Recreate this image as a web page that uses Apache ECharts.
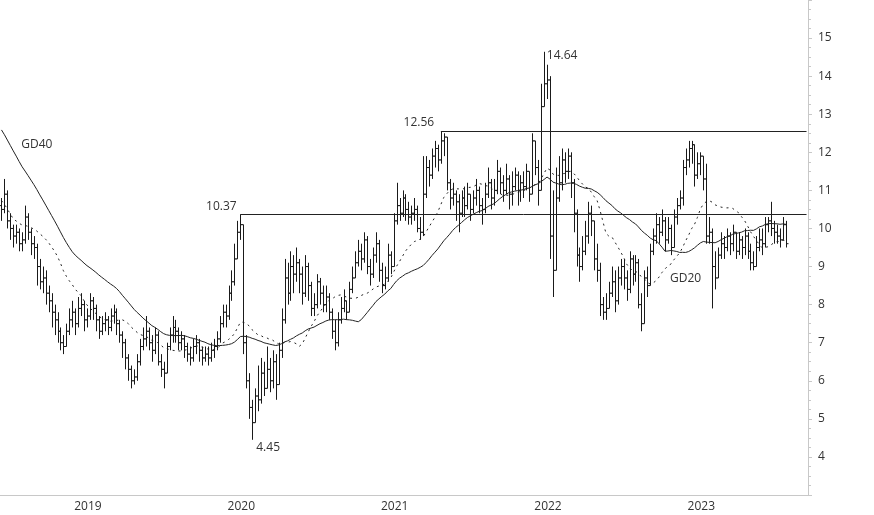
<!DOCTYPE html>
<html><head><meta charset="utf-8">
<script src="https://cdn.jsdelivr.net/npm/echarts@6/dist/echarts.min.js"></script>
<style>html,body{margin:0;padding:0;background:#fff}#chart{width:874px;height:515px}</style>
</head><body><div id="chart"></div>
<script>
// weekly closes, highs and lows
var closes = [10.5,10.9,10.2,10.0,9.8,9.9,9.6,9.7,10.3,9.9,
  9.6,9.5,9.0,8.6,8.7,8.3,8.1,7.8,7.6,7.3,
  7.0,6.9,7.3,7.6,7.8,7.5,7.9,8.0,7.6,7.7,
  8.1,7.9,7.6,7.3,7.5,7.6,7.4,7.7,7.8,7.5,
  7.2,7.0,6.6,6.3,6.0,6.1,6.5,6.9,7.1,7.3,
  7.0,6.8,7.2,6.5,6.3,6.2,6.9,7.2,7.4,7.3,
  7.0,7.1,6.9,6.7,6.6,6.9,7.0,6.8,6.6,6.7,
  6.6,6.8,6.9,7.1,7.5,7.8,7.7,8.3,8.6,9.2,
  9.9,10.1,7.0,6.0,5.3,4.9,5.6,5.5,6.2,5.8,
  6.3,6.0,6.5,5.9,6.8,7.6,8.7,8.3,9.0,8.8,
  9.1,8.8,8.3,9.0,8.5,7.9,8.0,8.6,8.3,8.0,
  8.2,7.8,7.3,7.0,7.6,7.9,8.1,7.8,8.4,8.7,
  9.1,9.4,9.2,9.7,9.0,8.8,9.3,9.6,8.9,8.5,
  8.7,9.3,9.0,10.2,10.6,10.4,10.8,10.5,10.3,10.4,
  10.5,10.0,9.9,10.9,11.6,11.4,11.9,12.1,11.8,12.3,
  12.4,11.2,10.8,10.9,10.7,10.4,10.8,10.6,10.9,10.5,
  10.8,11.0,10.6,10.5,10.9,11.2,10.8,11.0,11.5,11.2,
  11.0,11.3,10.9,11.1,11.4,11.0,11.2,11.1,11.5,10.9,
  12.3,11.6,11.0,13.2,13.8,13.9,9.8,8.9,10.8,11.2,
  11.8,11.5,11.9,11.2,10.4,9.3,9.0,9.4,9.8,10.4,
  10.2,9.2,8.9,8.0,7.8,7.9,8.3,8.6,8.1,8.7,
  9.0,8.7,8.4,9.2,8.8,9.1,8.0,7.5,8.7,8.5,
  9.4,9.8,10.1,9.9,10.2,9.7,10.0,9.5,10.3,10.6,
  10.8,11.6,11.8,12.1,12.2,11.4,11.7,11.9,11.3,9.8,
  9.9,9.0,8.7,9.3,9.6,9.5,9.8,9.6,9.9,9.4,
  9.7,9.5,9.8,9.4,9.1,9.0,9.5,9.7,9.6,10.1,
  10.2,10.0,9.9,9.8,9.7,10.1,9.6];
var highs = [10.8,11.3,11.0,10.4,10.1,10.1,10.0,9.9,10.6,10.4,
  10.0,9.8,9.6,9.2,9.0,8.9,8.5,8.3,8.0,7.8,
  7.4,7.2,7.5,7.9,8.1,7.9,8.2,8.3,8.1,7.9,
  8.3,8.2,8.0,7.7,7.7,7.8,7.7,7.9,8.0,7.9,
  7.6,7.3,7.1,6.7,6.4,6.3,6.7,7.1,7.4,7.7,
  7.4,7.2,7.4,7.3,6.7,6.5,7.0,7.4,7.7,7.6,
  7.4,7.3,7.2,7.0,6.9,7.1,7.2,7.1,6.9,6.9,
  6.9,7.0,7.1,7.3,7.7,8.0,8.0,8.5,8.9,9.6,
  10.2,10.37,9.3,7.2,6.2,5.5,5.8,6.4,6.6,6.5,
  6.9,6.6,6.8,6.7,7.0,7.9,9.2,9.1,9.4,9.3,
  9.5,9.2,9.0,9.3,9.1,8.6,8.3,8.8,8.7,8.5,
  8.5,8.3,7.9,7.6,7.8,8.2,8.4,8.1,8.6,9.0,
  9.4,9.7,9.6,9.9,9.8,9.2,9.5,9.9,9.7,9.1,
  9.0,9.6,9.4,10.4,11.2,10.8,11.0,10.9,10.7,10.6,
  10.8,10.6,10.3,11.9,11.9,11.8,12.1,12.3,12.2,12.56,
  12.5,12.4,11.3,11.2,11.0,10.9,11.0,11.1,11.2,10.9,
  11.0,11.3,11.1,10.8,11.2,11.6,11.3,11.3,11.8,11.6,
  11.4,11.7,11.4,11.5,11.6,11.5,11.4,11.5,11.7,11.5,
  12.5,12.1,11.8,13.8,14.64,14.3,14.0,11.0,11.6,11.9,
  12.1,12.0,12.1,12.0,11.3,10.5,9.5,9.8,10.2,10.7,
  10.6,10.2,9.6,9.1,8.2,8.3,8.6,9.0,8.9,9.0,
  9.2,9.2,8.9,9.4,9.3,9.3,9.2,8.3,8.9,9.0,
  9.6,10.0,10.4,10.3,10.5,10.3,10.3,10.1,10.5,10.8,
  11.0,11.8,12.1,12.3,12.3,12.1,12.0,12.0,11.9,11.7,
  10.3,10.0,9.4,9.5,9.9,9.8,10.0,9.9,10.1,9.9,
  9.9,9.8,10.0,9.9,9.6,9.4,9.8,10.0,10.0,10.3,
  10.3,10.7,10.2,10.1,10.0,10.3,10.2];
var lows = [10.2,10.4,10.0,9.7,9.5,9.6,9.4,9.4,9.6,9.7,
  9.3,9.2,8.5,8.4,8.3,8.0,7.8,7.4,7.2,7.0,
  6.8,6.7,6.9,7.2,7.4,7.2,7.4,7.7,7.3,7.4,
  7.6,7.6,7.3,7.1,7.2,7.3,7.2,7.3,7.5,7.2,
  7.0,6.6,6.3,6.0,5.8,5.9,6.0,6.4,6.8,6.9,
  6.8,6.5,6.7,6.4,6.1,5.8,6.2,6.8,7.0,7.0,
  6.8,6.8,6.6,6.5,6.4,6.5,6.7,6.5,6.4,6.5,
  6.4,6.5,6.6,6.8,7.0,7.4,7.4,7.6,8.1,8.5,
  9.2,9.7,6.7,5.8,5.0,4.45,4.9,5.2,5.4,5.6,
  5.8,5.7,5.8,5.5,5.9,6.6,7.5,8.0,8.1,8.3,
  8.6,8.3,8.0,8.2,8.1,7.7,7.7,7.9,8.0,7.8,
  7.8,7.6,7.1,6.8,6.9,7.5,7.8,7.6,7.8,8.3,
  8.7,9.0,8.9,9.1,8.8,8.5,8.7,9.1,8.6,8.3,
  8.4,8.6,8.8,9.0,10.1,10.2,10.3,10.2,10.1,10.1,
  10.2,9.9,9.7,9.8,10.8,11.1,11.3,11.6,11.5,11.7,
  11.9,11.0,10.5,10.6,10.2,9.9,10.3,10.3,10.5,10.2,
  10.4,10.6,10.4,10.1,10.4,10.8,10.5,10.6,10.9,10.9,
  10.7,10.9,10.5,10.6,11.0,10.6,10.7,10.8,11.0,10.7,
  11.2,11.4,10.6,11.5,13.2,13.4,9.2,8.2,9.3,10.7,
  11.0,11.2,11.3,10.8,9.9,9.0,8.6,8.9,9.3,9.6,
  9.8,8.9,8.6,7.7,7.6,7.6,7.9,8.2,7.8,8.0,
  8.5,8.4,8.1,8.3,8.5,8.6,7.9,7.3,7.6,8.2,
  8.5,9.3,9.6,9.6,9.8,9.4,9.6,9.3,9.5,10.1,
  10.5,10.6,11.4,11.6,11.7,11.1,11.3,11.4,11.0,9.6,
  9.6,7.9,8.4,8.8,9.2,9.2,9.4,9.3,9.4,9.2,
  9.3,9.2,9.3,9.2,8.9,8.9,9.0,9.4,9.3,9.5,
  9.9,9.8,9.6,9.6,9.5,9.7,9.5];
// closes of the 40 weeks before the visible window (feed the averages)
var priorCloses = [16.0,15.9,15.8,15.7,15.5,15.4,15.3,15.2,
  14.8,14.6,14.4,14.3,14.2,14.1,14.0,13.8,13.6,
  13.3,13.1,13.0,12.9,12.8,12.7,12.6,12.4,
  11.0,10.8,10.6,10.5,10.4,10.3,10.2,10.1,10.0,10.0,9.9,9.9,10.0,9.9,10.0];
var firstOpen = 10.6;
var startDate = '2018-07-16';
var emptyWeeks = 7;
var marks = [
  { name: '10.37', week: 81, value: 10.37, offset: [-19, -8] },
  { name: '12.56', week: 149, value: 12.56, offset: [-22, -8] },
  { name: '14.64', week: 184, value: 14.64, offset: [18, 4] },
  { name: '4.45', week: 85, value: 4.45, offset: [16, 8] }
];
var resistance = [{ week: 81, value: 10.37 }, { week: 149, value: 12.56 }];

// categories: one per week
var weeks = [];
var d0 = new Date(startDate + 'T00:00:00Z');
for (var i = 0; i < closes.length + emptyWeeks; i++) {
  var d = new Date(d0.getTime() + i * 7 * 86400000);
  weeks.push(d.toISOString().slice(0, 10));
}
function yearStart(idx) {
  if (idx === 0) return false;
  var a = new Date(weeks[idx] + 'T00:00:00Z'), b = new Date(a.getTime() + 6 * 86400000);
  return b.getUTCFullYear() !== a.getUTCFullYear() || (a.getUTCMonth() === 0 && a.getUTCDate() === 1);
}
function monthStart(idx) {
  if (idx === 0) return false;
  var a = new Date(weeks[idx] + 'T00:00:00Z'), b = new Date(a.getTime() + 6 * 86400000);
  return b.getUTCMonth() !== a.getUTCMonth() || a.getUTCDate() === 1;
}

var ohlc = closes.map(function (c, i) {
  return [i, i === 0 ? firstOpen : closes[i - 1], highs[i], lows[i], c];
});
function sma(n) {
  var all = priorCloses.concat(closes), out = [];
  for (var i = 0; i < closes.length; i++) {
    var end = priorCloses.length + i, s = 0;
    for (var k = end - n + 1; k <= end; k++) s += all[k];
    out.push(+(s / n).toFixed(3));
  }
  return out;
}
var gd20 = sma(20), gd40 = sma(40);

var chart = echarts.init(document.getElementById('chart'), null, { renderer: 'canvas' });
var txt = { color: '#333', fontFamily: 'Open Sans', fontSize: 12 };
chart.setOption({
  animation: false,
  grid: { left: 0, right: 66, top: -2, bottom: 20 },
  xAxis: [{
    type: 'category', data: weeks, boundaryGap: true,
    axisLine: { lineStyle: { color: '#c8c8c8' } },
    axisTick: { interval: function (i) { return yearStart(i); }, length: 20, lineStyle: { color: '#c8c8c8' } },
    axisLabel: { interval: function (i) { return yearStart(i); }, formatter: function (v) {
      var a = new Date(v + 'T00:00:00Z'); return String(new Date(a.getTime() + 6 * 86400000).getUTCFullYear()); },
      align: 'left', padding: [0, 0, 0, 2], margin: 6, color: '#333', fontFamily: 'Open Sans', fontSize: 12 },
    splitLine: { show: false }
  }, {
    type: 'category', data: weeks, boundaryGap: true, position: 'bottom',
    axisLine: { show: false },
    axisTick: { interval: function (i) { return monthStart(i); }, length: 4, lineStyle: { color: '#c8c8c8' } },
    axisLabel: { show: false }
  }],
  yAxis: {
    type: 'value', position: 'right', min: 3, max: 16, interval: 1,
    axisLine: { show: true, lineStyle: { color: '#c8c8c8' } },
    axisTick: { show: true, length: 4, lineStyle: { color: '#c8c8c8' } },
    minorTick: { show: true, splitNumber: 4, length: 3, lineStyle: { color: '#c8c8c8' } },
    splitLine: { show: false },
    axisLabel: { margin: 10, color: '#333', fontFamily: 'Open Sans', fontSize: 12,
      formatter: function (v) { return (v < 4 || v > 15) ? '' : v; } }
  },
  series: [{
    type: 'custom', data: ohlc, encode: { x: 0, y: [1, 2, 3, 4] },
    renderItem: function (params, api) {
      var x = api.value(0), o = api.value(1), c = api.value(4);
      var h = Math.max(api.value(2), o, c), l = Math.min(api.value(3), o, c);
      var ph = api.coord([x, h]), pl = api.coord([x, l]);
      var po = api.coord([x, o]), pc = api.coord([x, c]);
      var cx = Math.round(ph[0]) + 0.5;
      var st = { stroke: '#1a1a1a', lineWidth: 1 };
      return { type: 'group', children: [
        { type: 'line', shape: { x1: cx, y1: ph[1], x2: cx, y2: pl[1] }, style: st },
        { type: 'line', shape: { x1: cx - 2, y1: po[1], x2: cx, y2: po[1] }, style: st },
        { type: 'line', shape: { x1: cx, y1: pc[1], x2: cx + 2, y2: pc[1] }, style: st }
      ] };
    }
  }, {
    name: 'GD20', type: 'line', data: gd20, symbol: 'none', silent: true,
    lineStyle: { color: '#222', width: 1, type: [2, 4] }
  }, {
    name: 'GD40', type: 'line', data: gd40, symbol: 'none', silent: true,
    lineStyle: { color: '#222', width: 1 },
    markLine: {
      symbol: 'none', silent: true, label: { show: false },
      lineStyle: { color: '#222', width: 1, type: 'solid' },
      data: resistance.map(function (r) {
        return [{ coord: [r.week, r.value] }, { coord: [weeks.length - 1, r.value] }];
      })
    },
    markPoint: {
      symbolSize: 0, silent: true,
      data: marks.map(function (m) {
        return { coord: [m.week, m.value], label: Object.assign({ show: true, formatter: m.name, offset: m.offset }, txt) };
      }).concat([
        { coord: [12, 12.2], label: Object.assign({ show: true, formatter: 'GD40' }, txt) },
        { coord: [232, 8.68], label: Object.assign({ show: true, formatter: 'GD20' }, txt) }
      ])
    }
  }]
});
</script></body></html>
